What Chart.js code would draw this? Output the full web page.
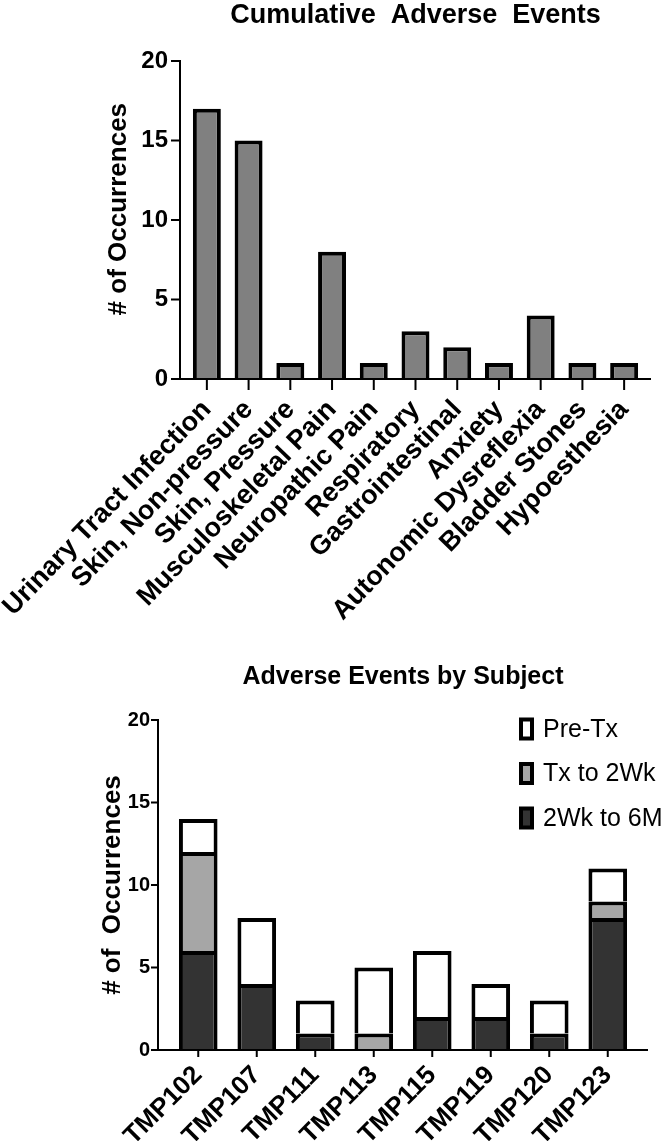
<!DOCTYPE html>
<html>
<head>
<meta charset="utf-8">
<script src="https://cdn.jsdelivr.net/npm/chart.js@4/dist/chart.umd.min.js"></script>
<style>
  html, body { margin: 0; padding: 0; background: #fff; }
  #wrap { position: relative; width: 672px; height: 1141px; overflow: hidden; }
  #top { position: absolute; left: 0; top: 0; }
  #bot { position: absolute; left: 0; top: 625px; }
</style>
</head>
<body>
<div id="wrap">
  <canvas id="top" width="672" height="625"></canvas>
  <canvas id="bot" width="672" height="516"></canvas>
</div>
<script>
// ---------- DATA ----------
const eventCategories = [
  'Urinary Tract Infection', 'Skin, Non-pressure', 'Skin, Pressure',
  'Musculoskeletal Pain', 'Neuropathic Pain', 'Respiratory',
  'Gastrointestinal', 'Anxiety', 'Autonomic Dysreflexia',
  'Bladder Stones', 'Hypoesthesia'
];
const eventCounts = [17, 15, 1, 8, 1, 3, 2, 1, 4, 1, 1];
const topYTicks = [0, 5, 10, 15, 20];

const subjects = ['TMP102', 'TMP107', 'TMP111', 'TMP113', 'TMP115', 'TMP119', 'TMP120', 'TMP123'];
const preTx   = [2, 4, 2, 4, 4, 2, 2, 2];
const txTo2Wk = [6, 0, 0, 1, 0, 0, 0, 1];
const wk2To6M = [6, 4, 1, 0, 2, 2, 1, 8];
const botYTicks = [0, 5, 10, 15, 20];

// ---------- STYLE ----------
const FAM = '"Liberation Sans", Arial, Helvetica, sans-serif';
Chart.defaults.font.family = FAM;
Chart.defaults.color = '#000';

// GraphPad-style detached axes drawn from the library's scales
const gpAxes = {
  id: 'gpAxes',
  afterDatasetsDraw(chart, args, o) {
    const {ctx, chartArea: a, scales: {x, y}} = chart;
    const ax = a.left - o.gap, ay = a.bottom, ex = a.right + o.gap;
    ctx.save();
    ctx.strokeStyle = '#000';
    ctx.lineWidth = o.lw;
    ctx.beginPath();
    ctx.moveTo(ax, y.getPixelForValue(y.max) - o.lw / 2);
    ctx.lineTo(ax, ay);
    ctx.moveTo(ax - o.lw / 2, ay);
    ctx.lineTo(ex, ay);
    y.ticks.forEach(t => {
      const py = y.getPixelForValue(t.value);
      ctx.moveTo(ax - o.yLen, py);
      ctx.lineTo(ax, py);
    });
    x.ticks.forEach((t, i) => {
      const px = x.getPixelForTick(i);
      ctx.moveTo(px, ay);
      ctx.lineTo(px, ay + o.xLen);
    });
    ctx.stroke();
    ctx.restore();
  }
};

const gpLegend = {
  id: 'gpLegend',
  afterDraw(chart, args, o) {
    if (!o || !o.display) return;
    const ctx = chart.ctx;
    const items = chart.data.datasets.slice().reverse();
    ctx.save();
    items.forEach((ds, i) => {
      const cy = o.y + i * o.spacing;
      ctx.fillStyle = '#000';
      ctx.fillRect(o.x, cy - o.h / 2, o.w, o.h);
      ctx.fillStyle = ds.backgroundColor;
      ctx.fillRect(o.x + o.bw, cy - o.h / 2 + o.bw, o.w - 2 * o.bw, o.h - 2 * o.bw);
      ctx.fillStyle = '#000';
      ctx.font = o.font;
      ctx.textAlign = 'left';
      ctx.textBaseline = 'middle';
      ctx.fillText(ds.label, o.x + o.w + o.textGap, cy + 1);
    });
    ctx.restore();
  }
};

function fixX(h) {
  return function (s) { s.height = h; s.paddingLeft = 0; s.paddingRight = 0; };
}

// ---------- TOP CHART ----------
new Chart(document.getElementById('top'), {
  type: 'bar',
  data: {
    labels: eventCategories,
    datasets: [{
      label: 'Cumulative Adverse Events',
      data: eventCounts,
      backgroundColor: '#808080',
      borderColor: '#000',
      borderWidth: 4,
      borderSkipped: 'start',
      categoryPercentage: 1,
      barPercentage: 0.67
    }]
  },
  options: {
    responsive: false,
    animation: false,
    layout: { padding: { left: 0, right: 27, top: 2, bottom: 0 } },
    plugins: {
      legend: { display: false },
      tooltip: { enabled: false },
      title: {
        display: true,
        text: 'Cumulative  Adverse  Events',
        fullSize: false,
        color: '#000',
        font: { family: FAM, size: 27, weight: 'bold', lineHeight: 1 },
        padding: { top: 0, bottom: 32 }
      },
      gpAxes: { gap: 6, lw: 2, yLen: 9, xLen: 11 }
    },
    scales: {
      x: {
        grid: { display: false, drawTicks: false },
        border: { display: false },
        ticks: {
          color: '#000',
          font: { family: FAM, size: 27, weight: 'bold' },
          minRotation: 46, maxRotation: 46,
          autoSkip: false,
          padding: 15
        },
        afterFit: fixX(246)
      },
      y: {
        min: 0, max: 20,
        grid: { display: false, drawTicks: false },
        border: { display: false },
        ticks: { color: '#000', font: { family: FAM, size: 24, weight: 'bold' }, padding: 18 },
        afterBuildTicks(s) { s.ticks = topYTicks.map(v => ({ value: v })); },
        title: {
          display: true,
          text: '\u00a0\u00a0\u00a0# of Occurrences',
          color: '#000',
          font: { family: FAM, size: 26, weight: 'bold', lineHeight: 1.2 },
          padding: { top: 103, bottom: 0 }
        },
        afterFit(s) { s.width = 186; }
      }
    }
  },
  plugins: [gpAxes]
});

// ---------- BOTTOM CHART ----------
new Chart(document.getElementById('bot'), {
  type: 'bar',
  data: {
    labels: subjects,
    datasets: [
      { label: '2Wk to 6M', data: wk2To6M, backgroundColor: '#333333' },
      { label: 'Tx to 2Wk', data: txTo2Wk, backgroundColor: '#a6a6a6' },
      { label: 'Pre-Tx',    data: preTx,   backgroundColor: '#ffffff' }
    ].map(d => Object.assign(d, {
      borderColor: '#000', borderWidth: 4, borderSkipped: 'start',
      categoryPercentage: 1, barPercentage: 0.66
    }))
  },
  options: {
    responsive: false,
    animation: false,
    layout: { padding: { left: 0, right: 35, top: 40, bottom: 0 } },
    plugins: {
      legend: { display: false },
      tooltip: { enabled: false },
      title: {
        display: true,
        text: 'Adverse Events by Subject',
        fullSize: false,
        color: '#000',
        font: { family: FAM, size: 25, weight: 'bold', lineHeight: 1 },
        padding: { top: 0, bottom: 30 }
      },
      gpAxes: { gap: 11, lw: 2, yLen: 7, xLen: 7 },
      gpLegend: {
        display: true, x: 519, y: 104, spacing: 44.5, w: 15, h: 23, bw: 4, textGap: 9,
        font: '25px ' + FAM
      }
    },
    scales: {
      x: {
        stacked: true,
        grid: { display: false, drawTicks: false },
        border: { display: false },
        ticks: {
          color: '#000',
          font: { family: FAM, size: 26, weight: 'bold' },
          minRotation: 45, maxRotation: 45,
          autoSkip: false,
          padding: 10
        },
        afterFit: fixX(91)
      },
      y: {
        stacked: true,
        min: 0, max: 20,
        grid: { display: false, drawTicks: false },
        border: { display: false },
        ticks: { color: '#000', font: { family: FAM, size: 20, weight: 'bold' }, padding: 19 },
        afterBuildTicks(s) { s.ticks = botYTicks.map(v => ({ value: v })); },
        title: {
          display: true,
          text: '# of  Occurrences',
          color: '#000',
          font: { family: FAM, size: 26, weight: 'bold', lineHeight: 1.2 },
          padding: { top: 97, bottom: 0 }
        },
        afterFit(s) { s.width = 169; }
      }
    }
  },
  plugins: [gpAxes, gpLegend]
});
</script>
</body>
</html>
